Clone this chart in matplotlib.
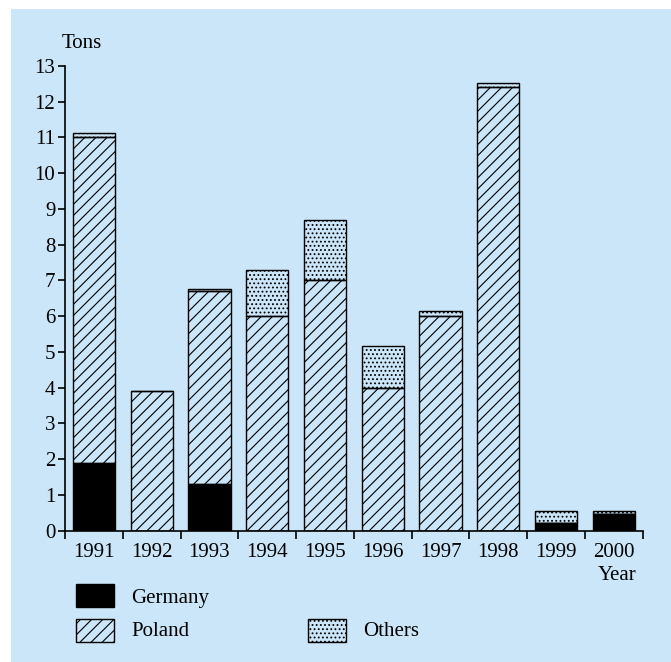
import numpy as np
import matplotlib.pyplot as plt
from matplotlib.patches import Rectangle

plt.rcParams['font.family'] = ['Liberation Serif', 'DejaVu Serif']
plt.rcParams['hatch.linewidth'] = 0.8

# Data (tons)
years = ['1991', '1992', '1993', '1994', '1995', '1996', '1997', '1998', '1999', '2000']
germany = [1.9, 0, 1.3, 0, 0, 0, 0, 0, 0.2, 0.45]
poland = [9.1, 3.9, 5.4, 6.0, 7.0, 4.0, 6.0, 12.4, 0, 0]
others = [0.12, 0, 0.07, 1.3, 1.7, 1.15, 0.13, 0.12, 0.35, 0.1]

W, H = 671, 662
bg = '#cbe6f8'


def fx(x):
    return x / W


def fy(y):
    return 1 - y / H


fig = plt.figure(figsize=(W / 100, H / 100), dpi=100)
fig.patch.set_facecolor('white')
fig.add_artist(Rectangle((fx(11), 0), 1 - fx(11), fy(9), transform=fig.transFigure,
                         facecolor=bg, edgecolor='none', zorder=-10))

ax = fig.add_axes([fx(65), fy(530.5), fx(642.7) - fx(65), fy(66) - fy(530.5)])
ax.set_facecolor('none')

x = np.arange(len(years))
g = np.array(germany)
p = np.array(poland)
o = np.array(others)
bw = 0.73
ax.bar(x, g, bw, color='black', edgecolor='black', linewidth=1)
ax.bar(x, p, bw, bottom=g, facecolor='none', edgecolor='black', hatch='///', linewidth=1)
ax.bar(x, o, bw, bottom=g + p, facecolor='none', edgecolor='black', hatch='....', linewidth=1)

ax.set_xlim(-0.5, len(years) - 0.5)
ax.set_ylim(0, 13)
for s in ['top', 'right']:
    ax.spines[s].set_visible(False)
for s in ['left', 'bottom']:
    ax.spines[s].set_linewidth(1.2)

ax.set_yticks(range(0, 14))
ax.tick_params(axis='y', direction='out', length=5, width=1.2, labelsize=15, pad=2)
ax.set_xticks(x)
ax.set_xticklabels(years)
ax.set_xticks(np.arange(-0.5, len(years)), minor=True)
ax.tick_params(axis='x', which='major', length=0, labelsize=15, pad=9)
ax.tick_params(axis='x', which='minor', direction='out', length=6, width=1.2)

fig.text(fx(82), fy(44), 'Tons', fontsize=15, ha='center', va='center')
fig.text(fx(636), fy(576), 'Year', fontsize=15, ha='right', va='center')

# legend
fig.add_artist(Rectangle((fx(76), fy(607)), fx(38), 23 / H, transform=fig.transFigure,
                         facecolor='black', edgecolor='black', linewidth=1))
fig.add_artist(Rectangle((fx(76), fy(642)), fx(38), 23 / H, transform=fig.transFigure,
                         facecolor='none', edgecolor='black', hatch='///', linewidth=1))
fig.add_artist(Rectangle((fx(308), fy(642)), fx(38), 23 / H, transform=fig.transFigure,
                         facecolor='none', edgecolor='black', hatch='....', linewidth=1))
fig.text(fx(131), fy(598), 'Germany', fontsize=15, ha='left', va='center')
fig.text(fx(131), fy(632), 'Poland', fontsize=15, ha='left', va='center')
fig.text(fx(363), fy(632), 'Others', fontsize=15, ha='left', va='center')

fig.savefig('out.png', dpi=100, facecolor=fig.get_facecolor())
